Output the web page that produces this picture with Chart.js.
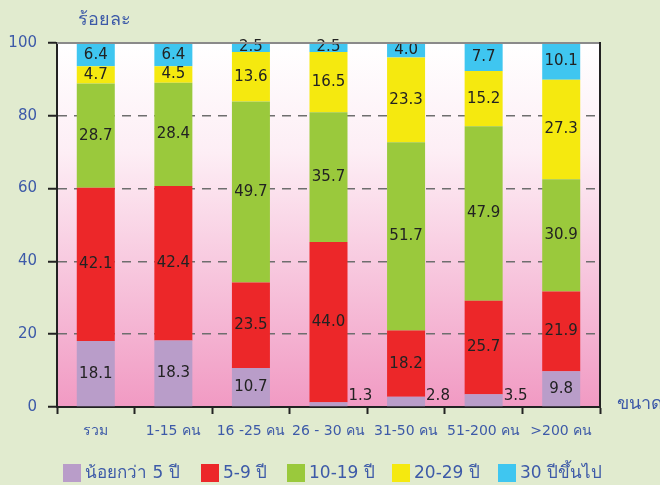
<!DOCTYPE html>
<html>
<head>
<meta charset="utf-8">
<script src="https://cdn.jsdelivr.net/npm/chart.js@4/dist/chart.umd.min.js"></script>
<style>
  body { margin: 0; background: #e1ebcf; }
  canvas { display: block; }
</style>
</head>
<body>
<canvas id="myChart" width="660" height="485"></canvas>
<script>
// data
var categories = ['รวม', '1-15 คน', '16 -25 คน', '26 - 30 คน', '31-50 คน', '51-200 คน', '>200 คน'];
var seriesNames = ['น้อยกว่า 5 ปี', '5-9 ปี', '10-19 ปี', '20-29 ปี', '30 ปีขึ้นไป'];
var under5 = [18.1, 18.3, 10.7, 1.3, 2.8, 3.5, 9.8];
var y5to9 = [42.1, 42.4, 23.5, 44.0, 18.2, 25.7, 21.9];
var y10to19 = [28.7, 28.4, 49.7, 35.7, 51.7, 47.9, 30.9];
var y20to29 = [4.7, 4.5, 13.6, 16.5, 23.3, 15.2, 27.3];
var y30up = [6.4, 6.4, 2.5, 2.5, 4.0, 7.7, 10.1];
var yTicks = [0, 20, 40, 60, 80, 100];

var colors = ['#b99dc9', '#ec2729', '#9ac93c', '#f5e90f', '#3fc6f0'];
var blue = '#3d5aa8';
var font = 'Tahoma, "DejaVu Sans", sans-serif';

var seriesData = [under5, y5to9, y10to19, y20to29, y30up];

var datasets = seriesData.map(function(d, i) {
    return {
        label: seriesNames[i],
        data: d,
        backgroundColor: colors[i],
        borderWidth: 0,
        barPercentage: 0.49,
        categoryPercentage: 1
    };
});

// legend box positions (x of each square)
var legendX = [63, 201, 287, 392, 498];

// plot background, borders, titles, legend
var decor = {
    id: 'decor',
    beforeDraw: function(chart) {
        var c = chart.ctx, a = chart.chartArea;
        c.save();
        var g = c.createLinearGradient(0, a.top, 0, a.bottom);
        g.addColorStop(0, '#ffffff');
        g.addColorStop(0.3, '#fdeef5');
        g.addColorStop(1, '#f19ac3');
        c.fillStyle = g;
        c.fillRect(a.left, a.top, a.right - a.left, a.bottom - a.top);
        c.restore();
    },
    afterDraw: function(chart) {
        var c = chart.ctx, a = chart.chartArea;
        c.save();
        c.strokeStyle = '#8a8a8a';
        c.lineWidth = 2;
        c.beginPath();
        c.moveTo(a.left, a.top);
        c.lineTo(a.right, a.top);
        c.stroke();
        c.strokeStyle = '#222';
        c.beginPath();
        c.moveTo(a.right, a.top - 1);
        c.lineTo(a.right, a.bottom);
        c.stroke();

        c.fillStyle = blue;
        c.font = '18px ' + font;
        c.textBaseline = 'middle';
        c.textAlign = 'left';
        c.fillText('ร้อยละ', 78, 20);
        c.fillText('ขนาด', 617, 404);

        // legend
        c.font = '17px ' + font;
        chart.data.datasets.forEach(function(ds, i) {
            c.fillStyle = ds.backgroundColor;
            c.fillRect(legendX[i], 464, 18, 18);
            c.fillStyle = blue;
            c.fillText(ds.label, legendX[i] + 22, 474);
        });
        c.restore();
    }
};

// value labels on bars
var barLabels = {
    id: 'barLabels',
    afterDatasetsDraw: function(chart) {
        var c = chart.ctx;
        c.save();
        c.font = '15px ' + font;
        c.fillStyle = '#222';
        c.textBaseline = 'middle';
        chart.data.datasets.forEach(function(ds, i) {
            var meta = chart.getDatasetMeta(i);
            meta.data.forEach(function(bar, j) {
                var v = ds.data[j];
                var txt = v.toFixed(1);
                if (i === 0 && v < 5) {
                    c.textAlign = 'left';
                    c.fillText(txt, bar.x + bar.width / 2 + 1, bar.base - 10);
                } else {
                    c.textAlign = 'center';
                    c.fillText(txt, bar.x, (bar.y + bar.base) / 2);
                }
            });
        });
        c.restore();
    }
};

var ctx = document.getElementById('myChart').getContext('2d');

var myChart = new Chart(ctx, {
    type: 'bar',
    data: {
        labels: categories,
        datasets: datasets
    },
    options: {
        responsive: false,
        animation: false,
        layout: { padding: { top: 43, right: 60, left: 0, bottom: 41 } },
        plugins: {
            tooltip: { enabled: false },
            legend: { display: false }
        },
        scales: {
            x: {
                stacked: true,
                afterFit: function(s) { s.height = 37; },
                grid: {
                    offset: true,
                    drawOnChartArea: false,
                    tickLength: 7,
                    tickColor: '#222',
                    tickWidth: 2
                },
                border: { color: '#222', width: 2 },
                ticks: {
                    color: blue,
                    font: { size: 14, family: font },
                    padding: 9,
                    maxRotation: 0,
                    minRotation: 0,
                    autoSkip: false
                }
            },
            y: {
                stacked: true,
                min: 0,
                max: 100,
                afterFit: function(s) { s.width = 57; },
                afterBuildTicks: function(s) {
                    s.ticks = yTicks.map(function(v) { return { value: v }; });
                },
                grid: {
                    color: function(c) {
                        return (c.tick.value === 0 || c.tick.value === 100) ? 'rgba(0,0,0,0)' : '#6e6e6e';
                    },
                    lineWidth: 1.5,
                    tickColor: '#222',
                    tickWidth: 2,
                    tickLength: 9,
                    tickBorderDash: []
                },
                border: { color: '#222', width: 2, dash: [9, 7] },
                ticks: {
                    color: blue,
                    font: { size: 15, family: font },
                    padding: 11
                }
            }
        }
    },
    plugins: [decor, barLabels]
});
</script>
</body>
</html>
